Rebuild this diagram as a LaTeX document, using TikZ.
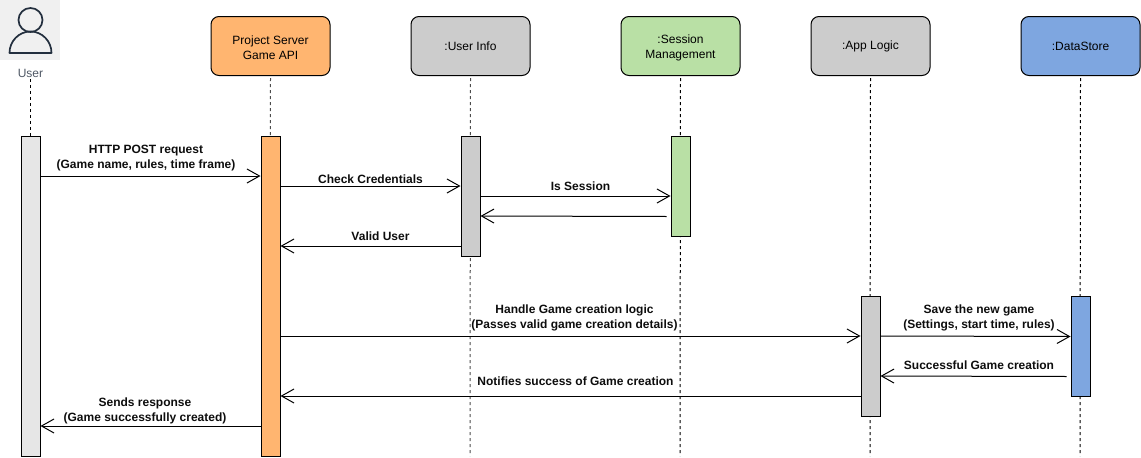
\documentclass[tikz,border=0pt]{standalone}
\usepackage{fontspec}
\setmainfont{Liberation Sans}
\usetikzlibrary{arrows.meta}
\definecolor{orangeF}{HTML}{FFB570}
\definecolor{grayF}{HTML}{CCCCCC}
\definecolor{greenF}{HTML}{B9E0A5}
\definecolor{blueF}{HTML}{7EA6E0}
\definecolor{userF}{HTML}{E6E6E6}
\definecolor{iconF}{HTML}{F0F0F0}
\definecolor{iconD}{HTML}{232F3E}
\newcommand{\lowerfirst}{\rule{0pt}{11.5pt}}
\tikzset{
  header/.style={draw=black,line width=1pt,rounded corners=8pt,minimum width=119pt,minimum height=59pt,inner sep=0pt,align=center,font=\fontsize{12}{15}\selectfont,anchor=north west},
  bar/.style={draw=black,line width=1pt,minimum width=19pt,inner sep=0pt,anchor=north west},
  life/.style={line width=1pt,dash pattern=on 3pt off 3pt},
  msg/.style={line width=1pt,-{Straight Barb[length=12.5pt,width=14pt,line width=1pt]}},
  lbl/.style={inner sep=0pt,align=center,font=\fontsize{12}{15}\selectfont\bfseries,text=black!95}
}
\begin{document}
\begin{tikzpicture}[x=1pt,y=-1pt]
\useasboundingbox (0,0) rectangle (1141,458);
\begin{scope}[shift={(-0.5,-0.5)}]
% user icon
\node[fill=iconF,minimum width=60pt,minimum height=60pt,inner sep=0pt,anchor=north west] (usericon) at (0.5,0.5) {};
\draw[iconD,line width=1.7pt] (31,20.5) circle (12);
\draw[iconD,line width=1.7pt,line join=round] (10,53.5) arc[start angle=180,end angle=0,x radius=21,y radius=-21.5] -- cycle;
\node[inner sep=0pt,text=iconD!80,font=\fontsize{12}{15}\selectfont] (userlabel) at (31,74) {User};
% headers
\node[header,fill=orangeF] (hS) at (211,16.5) {\lowerfirst Project Server\\Game API};
\node[header,fill=grayF] (hU) at (411,16.5) {:User Info};
\node[header,fill=greenF] (hM) at (621,16.5) {\lowerfirst :Session\\Management};
\node[header,fill=grayF] (hA) at (811,16.5) {:App Logic};
\node[header,fill=blueF] (hD) at (1021,16.5) {:DataStore};
% end points of lifelines
\coordinate (eC) at (30.5,456.5);
\coordinate (eS) at (270.5,456.5);
\coordinate (eU) at (470.5,456.5);
\coordinate (eM) at (680.5,456.5);
\coordinate (eA) at (870.5,456.5);
\coordinate (eD) at (1080.5,456.5);
% lifelines
\draw[life] (userlabel.south -| eC) ++(0,1) -- (eC);
\draw[life,black!70] (hS.south) ++(0,2) -- (eS);
\draw[life,black!70] (hU.south) ++(0,2) -- (eU);
\draw[life] (hM.south) ++(0,2) -- (eM);
\draw[life] (hA.south) ++(0,2) -- (eA);
\draw[life] (hD.south) ++(0,2) -- (eD);
% activation bars
\node[bar,fill=userF,minimum height=320pt] (bC) at (21,136.5) {};
\node[bar,fill=orangeF,minimum height=320pt] (bS) at (261,136.5) {};
\node[bar,fill=grayF,minimum height=120pt] (bU) at (461,136.5) {};
\node[bar,fill=greenF,minimum height=100pt] (bM) at (671,136.5) {};
\node[bar,fill=grayF,minimum height=120pt] (bA) at (861,296.5) {};
\node[bar,fill=blueF,minimum height=100pt] (bD) at (1071,296.5) {};
% messages
\draw[msg] (bC.east |- 0,176.5) -- (bS.west |- 0,176.5);
\draw[msg] (bS.east |- 0,186.5) -- (bU.west |- 0,186.5);
\draw[msg] (bU.east |- 0,196.5) -- (bM.west |- 0,196.5);
\draw[msg] ([xshift=-4pt]bM.west |- 0,217) -- (bU.east |- 0,216.5);
\draw[msg] (bU.west |- 0,246.5) -- (bS.east |- 0,246.5);
\draw[msg] (bS.east |- 0,336.5) -- (bA.west |- 0,336.5);
\draw[msg] (bA.east |- 0,336.5) -- (bD.west |- 0,337);
\draw[msg] ([xshift=-4pt]bD.west |- 0,377) -- (bA.east |- 0,376.5);
\draw[msg] (bA.west |- 0,396.5) -- (bS.east |- 0,396.5);
\draw[msg] (bS.west |- 0,426.5) -- (bC.east |- 0,426.5);
\end{scope}
% labels
\node[lbl] (l1) at (146,158) {HTTP POST request\\(Game name, rules, time frame)};
\node[lbl] (l2) at (370.5,179.5) {Check Credentials};
\node[lbl] (l3) at (580.5,186.5) {Is Session};
\node[lbl] (l4) at (380.5,236.5) {Valid User};
\node[lbl] (l5) at (574.5,318) {Handle Game creation logic\\(Passes valid game creation details)};
\node[lbl] (l6) at (979,318) {Save the new game\\(Settings, start time, rules)};
\node[lbl] (l7) at (979,365.5) {Successful Game creation};
\node[lbl] (l8) at (575.5,381.5) {Notifies success of Game creation};
\node[lbl] (l9) at (145,411) {Sends response\\(Game successfully created)};
\end{tikzpicture}
\end{document}
